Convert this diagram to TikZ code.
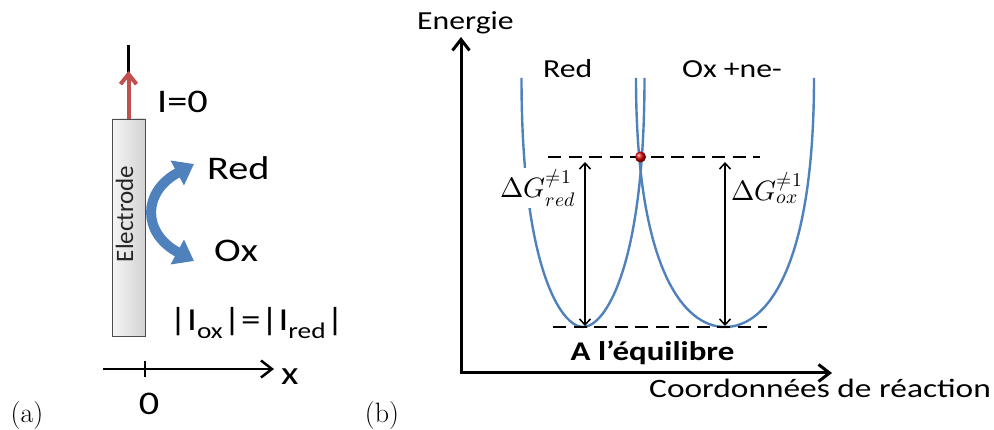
\documentclass[tikz,border=0pt]{standalone}
\usepackage{fontspec}
\usepackage{unicode-math}
\newfontfamily\calf[FakeStretch=1.22]{Carlito}
\newfontfamily\calwide[FakeStretch=1.26]{Carlito}
\newfontfamily\calplain{Carlito}
\usetikzlibrary{arrows.meta}
\definecolor{oblue}{HTML}{4F81BD}
\definecolor{ored}{HTML}{C0504D}
\begin{document}
\begin{tikzpicture}[x=1pt,y=-1pt,
  biga/.style={font=\calf\fontsize{33}{38}\selectfont, inner sep=0pt},
  bigb/.style={font=\calf\fontsize{26}{30}\selectfont, inner sep=0pt},
  panel/.style={font=\fontsize{28}{32}\selectfont, inner sep=0pt},
  dg/.style={font=\fontsize{28}{32}\selectfont, fill=white, inner sep=1pt},
  curve/.style={oblue, line width=2.4},
  dashline/.style={line width=2.8, dash pattern=on 13pt off 7.5pt},
  barb/.tip={Straight Barb[length=6pt,width=11pt]},
  axbarb/.tip={Straight Barb[length=11pt,width=17pt]}
]
\useasboundingbox (0,0) rectangle (994,430);

% ---------- panel (a) ----------
\node[draw=gray!60!black, line width=0.8, left color=gray!8, right color=gray!35,
      minimum width=33pt, minimum height=217pt, inner sep=0pt] (el) at (128.5,227.5) {};
\node[rotate=90, font=\calplain\fontsize{25}{28}\selectfont, inner sep=0pt, text=black!85] (eltxt) at (124.5,214) {Electrode};
\coordinate (wireTop) at (128.5,45);
\coordinate (wireBot) at (128.5,76);
\coordinate (redTip) at (128.5,71);
\draw[line width=3] (wireTop) -- (wireBot);
\draw[ored, line width=4, -{Straight Barb[length=10pt,width=16pt]}] (el.north) -- (redTip);
\node[biga, anchor=base west] (i0) at (157,113) {I=0};
\node[biga, anchor=base west] (reda) at (207,180) {Red};
\node[biga, anchor=base west] (oxa) at (214,262) {Ox};
\coordinate (arcA) at (194,164);
\coordinate (arcB) at (194,261);
\draw[oblue, line width=10, {Triangle[length=19pt,width=27pt]}-{Triangle[length=19pt,width=27pt]}]
  (arcA) .. controls (142,192) and (142,233) .. (arcB);
\node[biga, anchor=base west, font=\calf\fontsize{32}{38}\selectfont] (curr) at (169,331) {|I\textsubscript{ox}|=|I\textsubscript{red}|};
\coordinate (xa0) at (103,369);
\coordinate (xa1) at (274,369);
\draw[line width=2.5, -axbarb] (xa0) -- (xa1);
\coordinate (tk0) at (145,361);
\coordinate (tk1) at (145,377);
\draw[line width=2.5] (tk0) -- (tk1);
\node[biga, anchor=base west] (xlab) at (281,385) {x};
\node[biga, anchor=base] (zero) at (149,415) {0};
\node[panel, anchor=base] (pa) at (27,422) {(a)};

% ---------- panel (b) ----------
\node[panel, anchor=base] (pb) at (382,422) {(b)};
% parabolas
\draw[curve] (521.5,78) .. controls (521.5,267) and (561,327) .. (583,327)
  .. controls (605,327) and (644.5,267) .. (644.5,78);
\draw[curve] (636,78) .. controls (636,267) and (683,327) .. (725,327)
  .. controls (767,327) and (814,267) .. (814,78);
% labels over curves
\node[dg] (dgred) at (538,188) {$\Delta G^{\neq 1}_{red}$};
\node[dg] (dgox) at (767,188) {$\Delta G^{\neq 1}_{ox}$};
% axes
\coordinate (orig) at (461,373);
\coordinate (yTip) at (461,37);
\coordinate (xTip) at (832,373);
\draw[line width=3, line join=miter, axbarb-axbarb]
  (yTip) -- (orig) -- (xTip);
% dashed levels
\coordinate (dTL) at (548,157);
\coordinate (dTR) at (760,157);
\coordinate (dBL) at (553,327);
\coordinate (dBR) at (767,327);
\draw[dashline] (dTL) -- (dTR);
\draw[dashline] (dBL) -- (dBR);
% double arrows
\coordinate (lTop) at (585,162);
\coordinate (lBot) at (585,326);
\coordinate (rTop) at (725,162);
\coordinate (rBot) at (725,326);
\draw[line width=1.5, barb-barb] (lTop) -- (lBot);
\draw[line width=1.5, barb-barb] (rTop) -- (rBot);
% crossing point
\node[circle, ball color=red!85!black, minimum size=11pt, inner sep=0pt] (cross) at (640.5,157) {};
% texts
\node[bigb, anchor=base west] (ener) at (417,30) {Energie};
\node[bigb, anchor=base west] (redb) at (543,78) {Red};
\node[bigb, anchor=base west] (oxb) at (682,78) {Ox +ne-};
\node[bigb, anchor=base, font=\calf\bfseries\fontsize{27}{30}\selectfont] (equi) at (652.5,361) {A l’équilibre};
\node[bigb, anchor=base west, font=\calwide\fontsize{26.5}{30}\selectfont] (coord) at (649,398) {Coordonnées de réaction};
\end{tikzpicture}
\end{document}
